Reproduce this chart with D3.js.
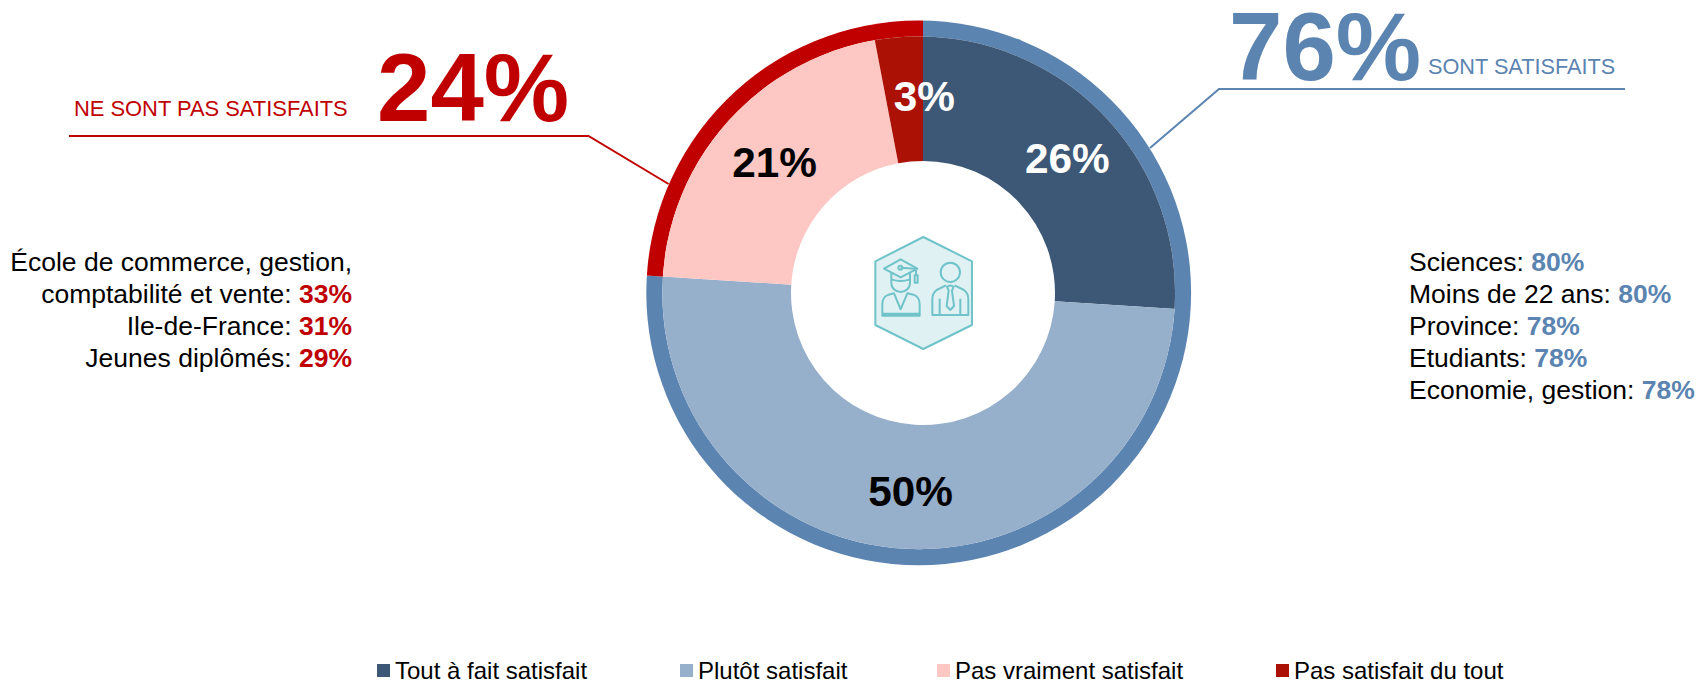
<!DOCTYPE html>
<html><head><meta charset="utf-8">
<script src="https://cdn.jsdelivr.net/npm/d3@7"></script>
<style>html,body{margin:0;padding:0;background:#fff}svg{display:block}text{font-family:"Liberation Sans",Arial,sans-serif}</style>
</head><body><div id="c"></div>
<script>
const categories=["Tout à fait satisfait","Plutôt satisfait","Pas vraiment satisfait","Pas satisfait du tout"];
const values=[26,50,21,3];
const colors=["#3d5876","#96afcb","#fdc8c4","#ab1205"];
const labelColors=["#fff","#000","#000","#fff"];
const groupNames=["SONT SATISFAITS","NE SONT PAS SATISFAITS"];
const groupValues=[76,24];
const groupColors=["#5b84b1","#c00000"];
const leftLines=[["École de commerce, gestion,",""],["comptabilité et vente: ","33%"],["Ile-de-France: ","31%"],["Jeunes diplômés: ","29%"]];
const rightLines=[["Sciences: ","80%"],["Moins de 22 ans: ","80%"],["Province: ","78%"],["Etudiants: ","78%"],["Economie, gestion: ","78%"]];
const legendX=[377,680,937,1276];

const W=1697,H=681,cx=923,cy=293;
const discX=918.7, discY=292.8;
const svg=d3.select("#c").append("svg").attr("width",W).attr("height",H);
const defs=svg.append("defs");
defs.append("clipPath").attr("id","outerClip").append("circle").attr("cx",discX-cx).attr("cy",discY-cy).attr("r",272.4);
defs.append("clipPath").attr("id","innerClip").append("circle").attr("cx",discX-cx).attr("cy",discY-cy).attr("r",256.4);
const g=svg.append("g").attr("transform",`translate(${cx},${cy})`);
const pie=d3.pie().sort(null).value(d=>d);
const arc=d3.arc().innerRadius(132).outerRadius(330);
const ring=d3.arc().innerRadius(0).outerRadius(330);
const labelArc=d3.arc().innerRadius(138).outerRadius(258);
const slices=pie(values);
g.append("g").attr("clip-path","url(#outerClip)").selectAll("path").data(pie(groupValues)).join("path").attr("d",ring).attr("fill",(d,i)=>groupColors[i]);
g.append("circle").attr("cx",discX-cx).attr("cy",discY-cy).attr("r",256.4).attr("fill","#fff");
g.append("g").attr("clip-path","url(#innerClip)").selectAll("path").data(slices).join("path").attr("d",arc).attr("fill",(d,i)=>colors[i]);
// the narrow 3% slice has its label pushed right so that it stays readable
const labelShift=[0,0,0,20];
g.selectAll("text.l").data(slices).join("text").attr("class","l")
 .attr("transform",(d,i)=>{const c=labelArc.centroid(d);return `translate(${c[0]+labelShift[i]},${c[1]})`;})
 .attr("text-anchor","middle").attr("dy","0.36em")
 .attr("font-weight","bold").attr("font-size",42.3)
 .attr("fill",(d,i)=>labelColors[i]).text(d=>d.value+"%");

// leader lines
const line=d3.line();
svg.append("path").attr("d",line([[1150,148],[1219,89],[1625,89]])).attr("fill","none").attr("stroke",groupColors[0]).attr("stroke-width",2);
svg.append("path").attr("d",line([[668.6,184],[588.5,136],[69,136]])).attr("fill","none").attr("stroke",groupColors[1]).attr("stroke-width",2);

// headline
svg.append("text").attr("x",1229).attr("y",80).attr("font-size",96).attr("font-weight","bold").attr("fill",groupColors[0]).text(groupValues[0]+"%");
svg.append("text").attr("x",1428).attr("y",74).attr("font-size",21.7).attr("fill",groupColors[0]).text(groupNames[0]);
svg.append("text").attr("x",377).attr("y",121).attr("font-size",96).attr("font-weight","bold").attr("fill",groupColors[1]).text(groupValues[1]+"%");
svg.append("text").attr("x",74).attr("y",116).attr("font-size",21.9).attr("fill",groupColors[1]).text(groupNames[1]);

// side lists
function list(lines,x,y0,anchor,col){
  lines.forEach((l,i)=>{
    const t=svg.append("text").attr("x",x).attr("y",y0+i*32).attr("text-anchor",anchor).attr("font-size",26.5).attr("fill","#000");
    t.append("tspan").text(l[0]);
    if(l[1]) t.append("tspan").attr("font-weight","bold").attr("fill",col).text(l[1]);
  });
}
list(leftLines,352,271,"end",groupColors[1]);
list(rightLines,1409,271,"start",groupColors[0]);

// legend
categories.forEach((c,i)=>{
  svg.append("rect").attr("x",legendX[i]).attr("y",664).attr("width",13).attr("height",13).attr("fill",colors[i]);
  svg.append("text").attr("x",legendX[i]+18).attr("y",679).attr("font-size",24).attr("fill","#000").text(c);
});

// icon (drawn in a local frame)
const ic=svg.append("g").attr("transform","translate(820,200) scale(0.3333)").attr("fill","none").attr("stroke","#6fc3c9").attr("stroke-width",6).attr("stroke-linejoin","round");
ic.append("path").attr("d","M310,111L456,184V375L310,447L166,375V184Z").attr("fill","#dff1f2");
ic.append("path").attr("d","M192,206L242,178L292,206L242,232Z");
ic.append("path").attr("d","M242,203L288,206V226");
ic.append("circle").attr("cx",241).attr("cy",203).attr("r",6);
ic.append("rect").attr("x",284).attr("y",226).attr("width",9).attr("height",22);
ic.append("path").attr("d","M214,218V248C214,266 228,276 242,276C256,276 270,266 270,248V218");
ic.append("path").attr("d","M214,238C232,244 252,244 270,238");
ic.append("path").attr("d","M222,280L206,284C194,288 187,298 187,312V347H299V312C299,298 292,288 280,284L262,280L242,328Z");
ic.append("path").attr("d","M187,342H299").attr("stroke-width",8);
ic.append("circle").attr("cx",391).attr("cy",217).attr("r",29);
ic.append("path").attr("d","M378,256L350,270C342,276 337,286 337,298V345H445V298C445,286 440,276 432,270L404,256");
ic.append("path").attr("d","M381,260L391,256L401,260L396,272L402,318L391,330L380,318L386,272Z");
ic.append("path").attr("d","M359,296V345M421,296V345");
</script></body></html>
